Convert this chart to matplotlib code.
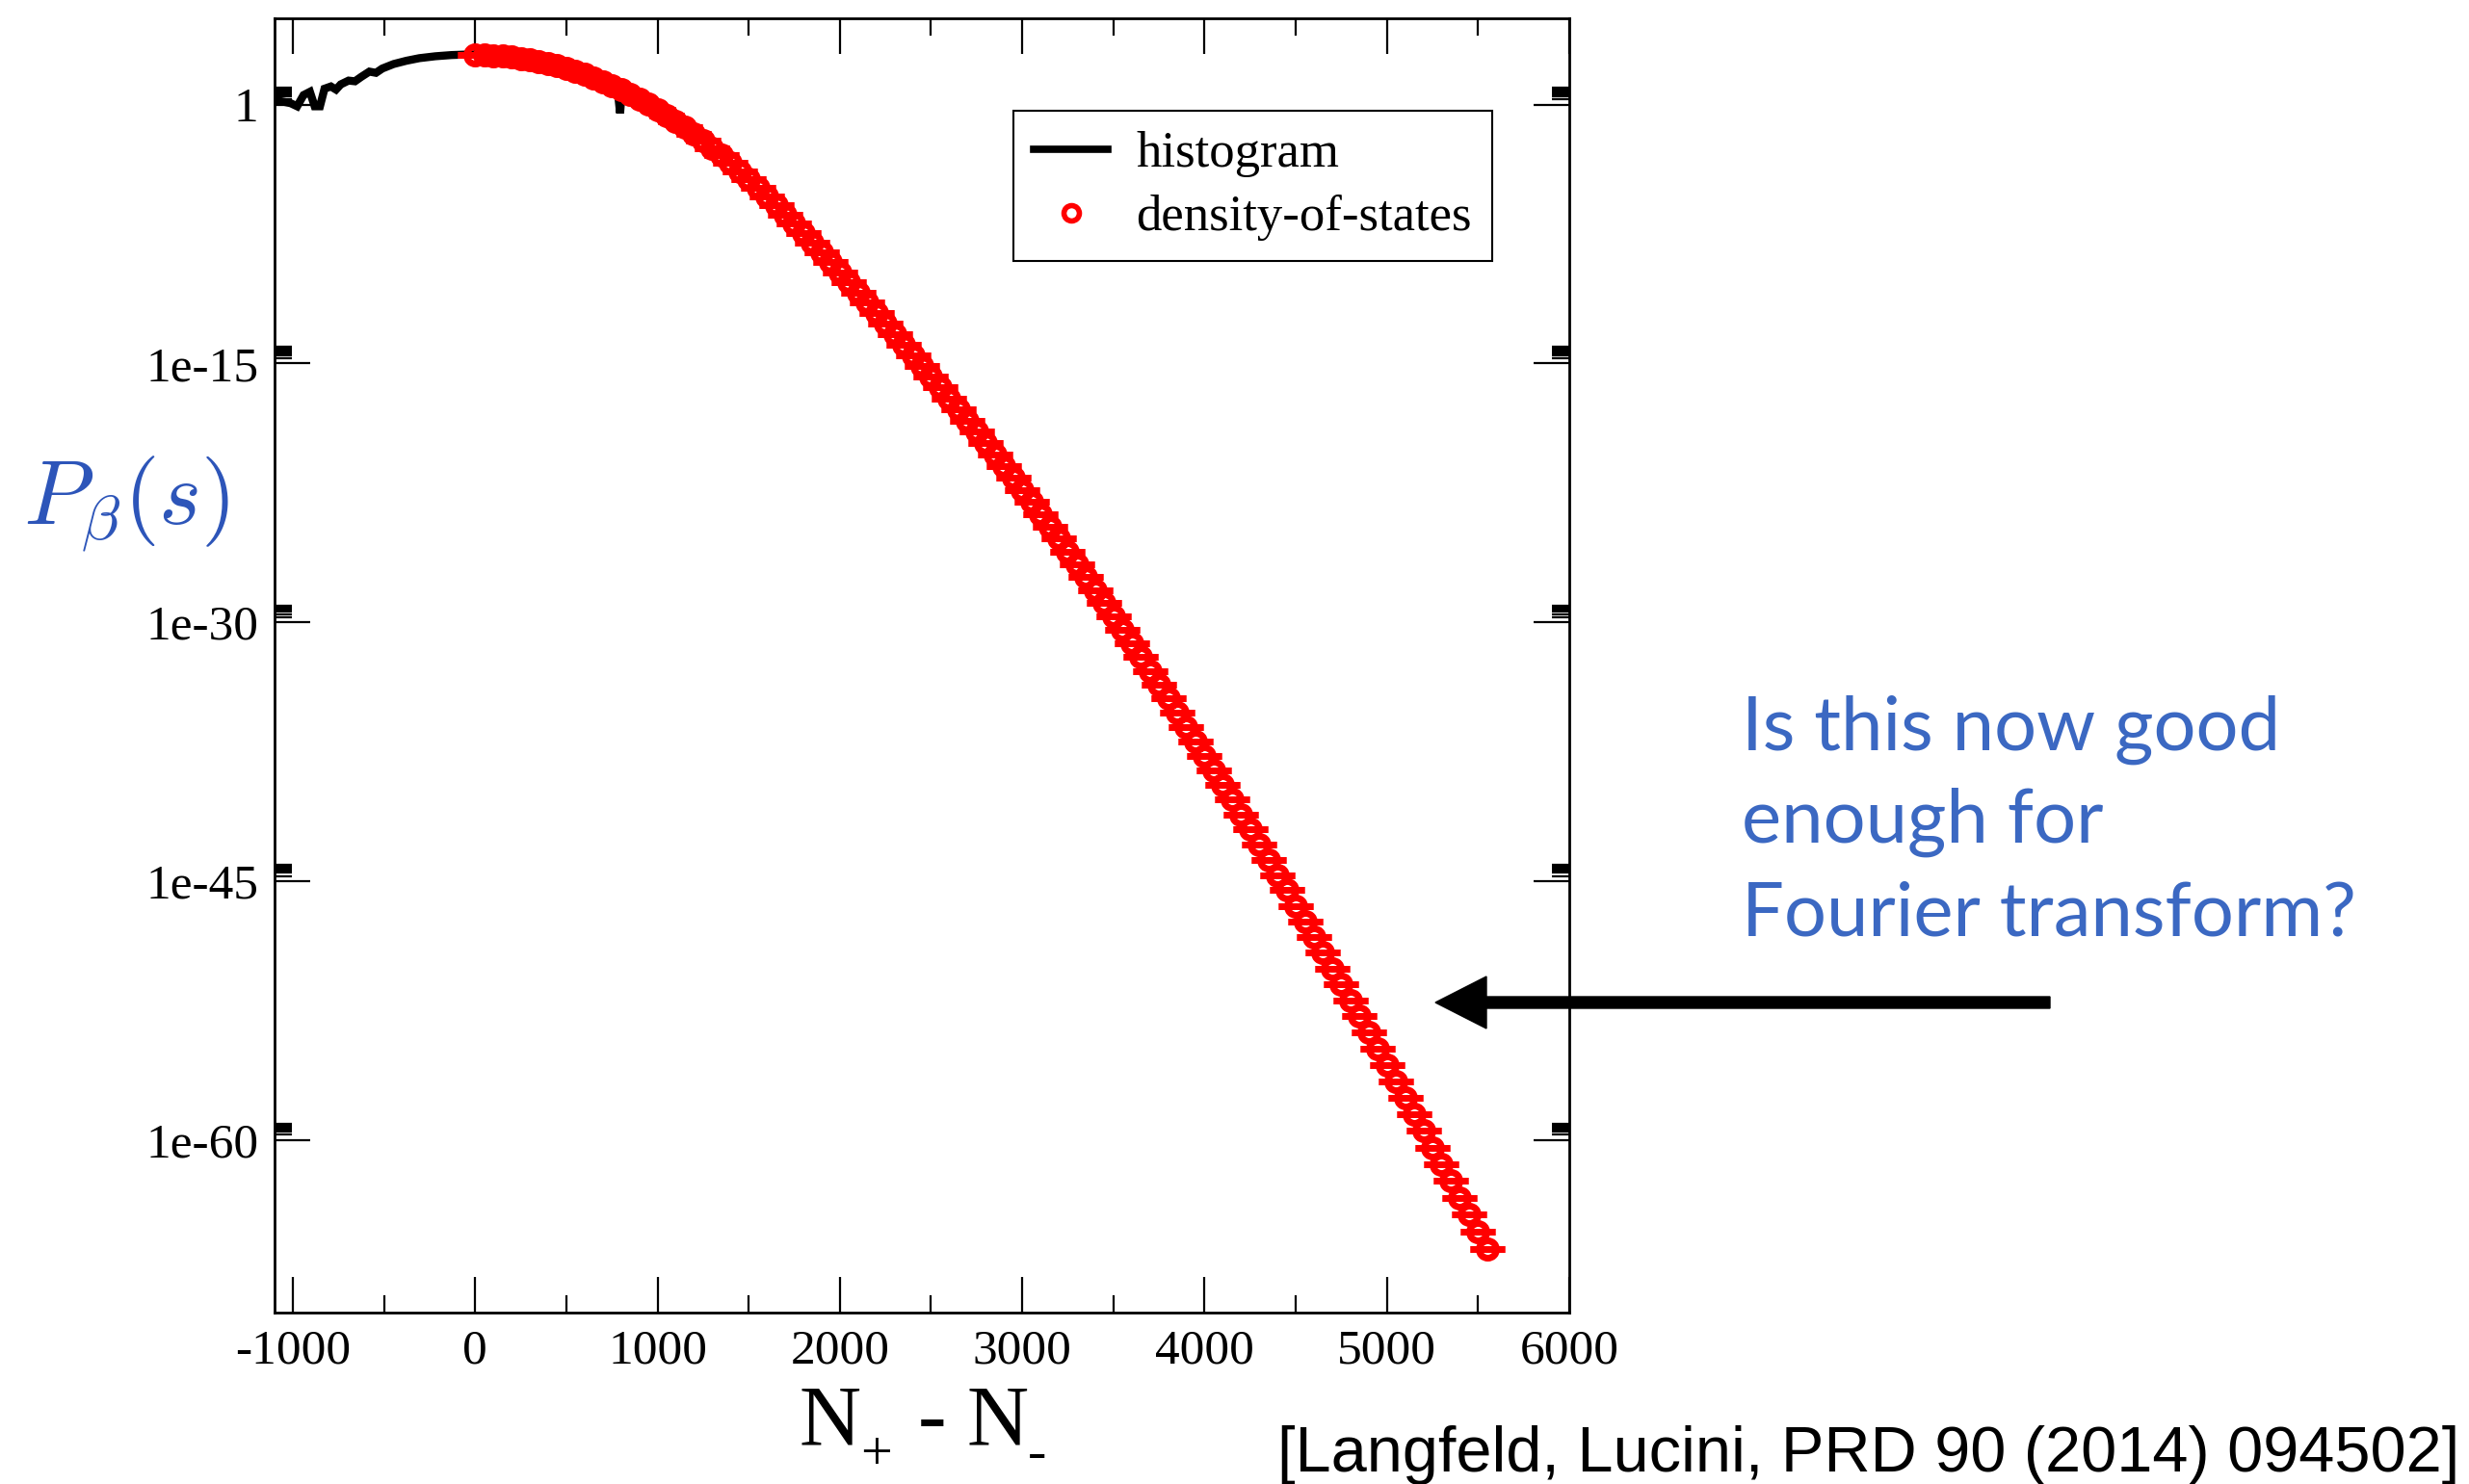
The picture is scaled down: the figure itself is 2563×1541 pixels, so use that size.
import numpy as np
import matplotlib
matplotlib.use("Agg")
import matplotlib.pyplot as plt
from matplotlib.lines import Line2D
from matplotlib.patches import FancyArrow
from matplotlib.transforms import IdentityTransform
from matplotlib.ticker import FixedLocator, FixedFormatter, NullFormatter

plt.rcParams["font.family"] = ["Liberation Serif", "DejaVu Serif"]
plt.rcParams["mathtext.fontset"] = "stix"
plt.rcParams["axes.unicode_minus"] = False

# ---------------- data ----------------
# histogram: N+ - N-  and log10 P
hist_x = [-1100, -1012, -976, -941, -906, -880, -851, -826, -791, -763, -737,
          -694, -659, -624, -580, -544, -509, -447, -377, -306, -218, -130, -24,
          0, 100, 200, 300, 400, 500, 600, 700, 780, 795, 805, 850, 900]
hist_log = [0.27, 0.08, -0.10, 0.55, 0.74, -0.10, -0.10, 0.92, 1.05, 0.87, 1.17,
            1.39, 1.35, 1.61, 1.91, 1.84, 2.09, 2.35, 2.54, 2.69, 2.80, 2.87, 2.91,
            2.90, 2.86, 2.76, 2.60, 2.38, 2.10, 1.76, 1.35, 0.98, -0.50, 0.85, 0.62, 0.34]

# density-of-states: N+ - N-  and log10 P
dos_x = [0, 50, 100, 150, 200, 250, 300, 350, 400, 450,
         500, 550, 600, 650, 700, 750, 800, 850, 900, 950,
         1000, 1050, 1100, 1150, 1200, 1250, 1300, 1350, 1400, 1450,
         1500, 1550, 1600, 1650, 1700, 1750, 1800, 1850, 1900, 1950,
         2000, 2050, 2100, 2150, 2200, 2250, 2300, 2350, 2400, 2450,
         2500, 2550, 2600, 2650, 2700, 2750, 2800, 2850, 2900, 2950,
         3000, 3050, 3100, 3150, 3200, 3250, 3300, 3350, 3400, 3450,
         3500, 3550, 3600, 3650, 3700, 3750, 3800, 3850, 3900, 3950,
         4000, 4050, 4100, 4150, 4200, 4250, 4300, 4350, 4400, 4450,
         4500, 4550, 4600, 4650, 4700, 4750, 4800, 4850, 4900, 4950,
         5000, 5050, 5100, 5150, 5200, 5250, 5300, 5350, 5400, 5450,
         5500, 5550]
dos_log = [2.87, 2.86, 2.84, 2.80, 2.75, 2.68, 2.59, 2.49, 2.37, 2.24,
           2.10, 1.93, 1.75, 1.56, 1.34, 1.11, 0.87, 0.61, 0.33, 0.03,
           -0.28, -0.61, -0.95, -1.32, -1.70, -2.09, -2.51, -2.94, -3.38, -3.85,
           -4.33, -4.83, -5.33, -5.84, -6.37, -6.90, -7.44, -7.99, -8.55, -9.13,
           -9.71, -10.29, -10.88, -11.48, -12.08, -12.68, -13.29, -13.90, -14.51, -15.13,
           -15.76, -16.38, -17.02, -17.66, -18.31, -18.96, -19.62, -20.29, -20.96, -21.64,
           -22.33, -23.02, -23.73, -24.44, -25.16, -25.89, -26.62, -27.37, -28.12, -28.88,
           -29.66, -30.43, -31.22, -32.01, -32.81, -33.61, -34.42, -35.24, -36.06, -36.89,
           -37.73, -38.57, -39.42, -40.28, -41.14, -42.01, -42.88, -43.76, -44.64, -45.53,
           -46.43, -47.33, -48.24, -49.15, -50.07, -50.99, -51.91, -52.84, -53.77, -54.71,
           -55.66, -56.60, -57.55, -58.51, -59.47, -60.43, -61.40, -62.37, -63.35, -64.33,
           -65.31, -66.30]
dos_err = [0.0] * len(dos_x)

x_ticks = [-1000, 0, 1000, 2000, 3000, 4000, 5000, 6000]
x_tick_labels = ["-1000", "0", "1000", "2000", "3000", "4000", "5000", "6000"]
x_minor = [-500, 500, 1500, 2500, 3500, 4500, 5500]
y_ticks = [1e0, 1e-15, 1e-30, 1e-45, 1e-60]
y_tick_labels = ["1", "1e-15", "1e-30", "1e-45", "1e-60"]
legend_labels = ["histogram", "density-of-states"]

# ---------------- figure ----------------
W, H = 2563, 1541
fig = plt.figure(figsize=(W / 100, H / 100), dpi=100)
ax = fig.add_axes([285 / W, 1 - 1363 / H, (1629 - 285) / W, (1363 - 19) / H])
ax.set_yscale("log")

ax.plot(hist_x, 10.0 ** np.array(hist_log), color="black", lw=6.0,
        solid_joinstyle="miter", zorder=2)
ax.errorbar(dos_x, 10.0 ** np.array(dos_log), yerr=np.array(dos_err), fmt="o",
            ms=13, mfc="none", mec="#ff0000", mew=5.0, ecolor="#ff0000",
            elinewidth=2, capsize=13.3, capthick=2.3, zorder=3)

ax.set_xlim(-1100, 6000)
ax.set_ylim(1e-70, 1e5)

ax.xaxis.set_major_locator(FixedLocator(x_ticks))
ax.xaxis.set_major_formatter(FixedFormatter(x_tick_labels))
ax.xaxis.set_minor_locator(FixedLocator(x_minor))
ax.xaxis.set_minor_formatter(NullFormatter())
ax.yaxis.set_major_locator(FixedLocator(y_ticks))
ax.yaxis.set_major_formatter(FixedFormatter(y_tick_labels))
ax.yaxis.set_minor_locator(FixedLocator([k * t for t in y_ticks for k in range(2, 10)]))
ax.yaxis.set_minor_formatter(NullFormatter())

ax.tick_params(which="both", direction="in", top=True, right=True, labelsize=37)
ax.tick_params(which="major", length=26.6, width=1.6)
ax.tick_params(which="minor", length=13, width=1.6)
ax.tick_params(axis="y", which="major", pad=12)
ax.tick_params(axis="x", which="major", pad=12)
for s in ax.spines.values():
    s.set_linewidth(2.0)

# legend
h1 = Line2D([], [], color="black", lw=5.5)
h2 = Line2D([], [], ls="none", marker="o", ms=11.5, mfc="none", mec="#ff0000", mew=4.0)
leg = ax.legend([h1, h2], legend_labels, loc="upper left",
                bbox_to_anchor=(1052 / W, 1 - 115 / H), bbox_transform=fig.transFigure,
                fontsize=38, frameon=True, fancybox=False, edgecolor="black",
                framealpha=1, borderpad=0.40, handlelength=1.46, handletextpad=0.55,
                labelspacing=0.34, borderaxespad=0)
leg.get_frame().set_linewidth(1.5)

# y label
fig.text(131 / W, 1 - 523 / H, r"$P_\beta(s)$", fontsize=68, color="#2D55B9",
         ha="center", va="center", math_fontfamily="cm")

# x label "N+ - N-" built from pieces (large subscript drop as in original)
xl_pieces = [("N", 829, 1499, 64), ("+", 893, 1526, 42), ("-", 953, 1499, 64),
             ("N", 1004, 1499, 64), ("-", 1067, 1525, 42)]
for txt, px, py, fs in xl_pieces:
    fig.text(px / W, 1 - py / H, txt, fontsize=fs, ha="left", va="baseline")

# annotation
ann_lines = ["Is this now good", "enough for", "Fourier transform?"]
for line, yb in zip(ann_lines, [779, 875, 971]):
    fig.text(1808 / W, 1 - yb / H, line, fontsize=56, family="Lato",
             color="#3B68C2", ha="left", va="baseline")

arr = FancyArrow(2128, H - 1041, 1490 - 2128, 0, width=12, head_width=54,
                 head_length=53, length_includes_head=True, color="black",
                 transform=IdentityTransform(), zorder=10)
fig.add_artist(arr)

fig.text(2553 / W, 1 - 1528 / H, "[Langfeld, Lucini, PRD 90 (2014) 094502]",
         fontsize=48, family="Liberation Sans", ha="right", va="baseline")

fig.savefig("out.png", dpi=100)
